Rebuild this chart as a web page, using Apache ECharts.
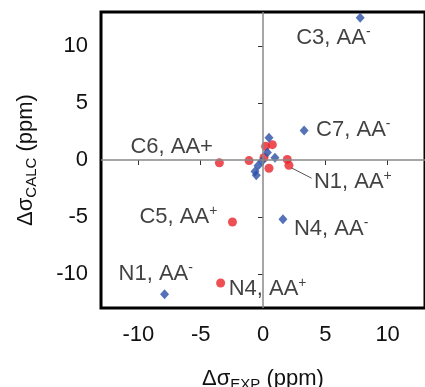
<!DOCTYPE html>
<html>
<head>
<meta charset="utf-8">
<style>
  html, body { margin: 0; padding: 0; background: #fff; }
  #chart { width: 425px; height: 387px; }
</style>
<script src="https://cdn.jsdelivr.net/npm/echarts@6/dist/echarts.min.js"></script>
</head>
<body>
<div id="chart"></div>
<script>
// Chemical shift differences: experimental vs calculated (ppm)
// AA⁻ (anion) sites
const anionPoints = [
  [7.8, 12.5],
  [3.3, 2.6],
  [1.6, -5.2],
  [-7.9, -11.8],
  [0.48, 1.95],
  [0.35, 0.65],
  [0.96, 0.2],
  [-0.08, -0.1],
  [-0.4, -0.5],
  [-0.64, -1.0],
  [-0.54, -1.35]
];
// AA⁺ (cation) sites
const cationPoints = [
  [-3.5, -0.25],
  [-2.45, -5.45],
  [-3.4, -10.8],
  [2.08, -0.47],
  [-1.12, -0.05],
  [0.08, 0.22],
  [0.21, 1.2],
  [0.75, 1.35],
  [0.48, -0.72],
  [1.95, 0.05]
];
// labelled sites: point index, text parts, label offset
const anionLabels = [
  { index: 0, site: 'C3', sign: '-', offset: [-64, 20] },
  { index: 1, site: 'C7', sign: '-', offset: [12, 0] },
  { index: 2, site: 'N4', sign: '-', offset: [11, 10] },
  { index: 3, site: 'N1', sign: '-', offset: [-46, -20] }
];
const cationLabels = [
  { index: 0, site: 'C6', sign: null, offset: [-89, -16] },
  { index: 1, site: 'C5', sign: '+', offset: [-93, -5] },
  { index: 2, site: 'N4', sign: '+', offset: [8, 6] },
  { index: 3, site: 'N1', sign: '+', offset: [25, 17] }
];
// guide line from N1, AA⁺ to its label
const guideLine = [[2.3, -0.7], [3.9, -1.6]];
const tickValues = [-10, -5, 0, 5, 10];
const axisRange = [-13, 13];

const FONT = 'Liberation Sans, Arial, sans-serif';
const labelRich = {
  t: { fontSize: 22, color: '#111', fontFamily: FONT, lineHeight: 26, verticalAlign: 'middle' },
  sup: { fontSize: 14, color: '#111', fontFamily: FONT, lineHeight: 26, verticalAlign: 'top' }
};

function buildData(points, labels) {
  return points.map((p, i) => {
    const lab = labels.find(l => l.index === i);
    if (!lab) return { value: p };
    const text = lab.sign
      ? '{t|' + lab.site + ', AA}{sup|' + lab.sign + '}'
      : '{t|' + lab.site + ', AA+}';
    return {
      value: p,
      label: {
        show: true,
        position: 'inside',
        align: 'left',
        verticalAlign: 'middle',
        offset: lab.offset,
        formatter: text,
        rich: labelRich
      }
    };
  });
}

const axisNameRich = {
  a: { fontSize: 22, color: '#111', fontFamily: FONT, lineHeight: 26, verticalAlign: 'middle' },
  s: { fontSize: 15, color: '#111', fontFamily: FONT, lineHeight: 26, verticalAlign: 'bottom' }
};

const chart = echarts.init(document.getElementById('chart'), null, { renderer: 'canvas' });

chart.setOption({
  animation: false,
  backgroundColor: '#fff',
  grid: {
    left: 101, right: 0, top: 12, bottom: 79,
    outerBoundsMode: 'none',
    containLabel: false,
    show: true, borderColor: '#000', borderWidth: 3, backgroundColor: 'transparent'
  },
  xAxis: {
    type: 'value',
    min: axisRange[0], max: axisRange[1],
    name: '{a|Δσ}{s|EXP}{a| (ppm)}',
    nameLocation: 'middle',
    nameGap: 58,
    nameTextStyle: { rich: axisNameRich },
    axisLine: { show: false },
    axisTick: { show: true, customValues: tickValues, length: 5, lineStyle: { color: '#333', width: 1 } },
    axisLabel: { customValues: tickValues, margin: 16, fontSize: 22, color: '#111', fontFamily: FONT },
    splitLine: { show: false }
  },
  yAxis: {
    type: 'value',
    min: axisRange[0], max: axisRange[1],
    name: '{a|Δσ}{s|CALC}{a| (ppm)}',
    nameLocation: 'middle',
    nameRotate: 90,
    nameGap: 62,
    nameTextStyle: { rich: axisNameRich },
    axisLine: { show: false },
    axisTick: { show: true, customValues: tickValues, length: 5, lineStyle: { color: '#333', width: 1 } },
    axisLabel: { customValues: tickValues, margin: 13, fontSize: 22, color: '#111', fontFamily: FONT },
    splitLine: { show: false }
  },
  series: [
    {
      type: 'line',
      data: guideLine,
      symbol: 'none',
      silent: true,
      lineStyle: { color: '#555', width: 1 },
      z: 1,
      markLine: {
        silent: true,
        symbol: 'none',
        label: { show: false },
        lineStyle: { color: '#888', width: 1.5, type: 'solid' },
        data: [{ xAxis: 0 }, { yAxis: 0 }]
      }
    },
    {
      name: 'AA+',
      type: 'scatter',
      symbol: 'circle',
      symbolSize: 9,
      itemStyle: { color: '#e8232b' },
      data: buildData(cationPoints, cationLabels),
      z: 3
    },
    {
      name: 'AA-',
      type: 'scatter',
      symbol: 'diamond',
      symbolSize: [9, 10],
      itemStyle: { color: '#2a4fa8' },
      data: buildData(anionPoints, anionLabels),
      z: 4
    }
  ]
});
</script>
</body>
</html>
